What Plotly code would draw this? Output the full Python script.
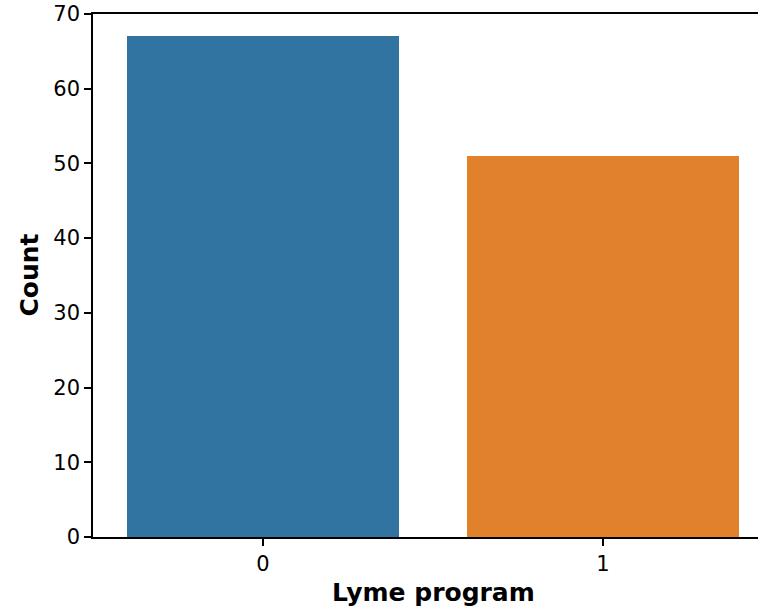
import plotly.graph_objects as go

categories = ["0", "1"]
counts = [67, 51]
colors = ["#3274a1", "#e1812c"]
y_ticks = [0, 10, 20, 30, 40, 50, 60, 70]

W, H = 758, 610
L, T, B = 93, 14, 73
# axis spans -0.5..1.5 in the original, cut off by the figure edge at right
x_left = -0.5
px_per_unit = 340.0
x_right = x_left + (W - L) / px_per_unit

fig = go.Figure()
fig.add_trace(go.Bar(
    x=[0, 1], y=counts, width=0.8, marker=dict(color=colors, line=dict(width=0)),
    hoverinfo="skip",
))

font = dict(family="DejaVu Sans", size=21, color="#000000")
label_font = dict(family="DejaVu Sans", size=25, color="#000000")
fig.update_layout(
    width=W, height=H,
    margin=dict(l=L, r=0, t=T, b=B, pad=0),
    paper_bgcolor="white", plot_bgcolor="white",
    showlegend=False, bargap=0,
    font=font,
    xaxis=dict(
        range=[x_left, x_right], tickmode="array", tickvals=[0, 1], ticktext=categories,
        showgrid=False, zeroline=False, showline=True, linecolor="#000000", linewidth=1.5,
        mirror=True, ticks="outside", ticklen=7, tickwidth=1.5, tickcolor="#000000",
        tickfont=font,
    ),
    yaxis=dict(
        range=[0, 70], tickmode="array", tickvals=y_ticks,
        showgrid=False, zeroline=False, showline=True, linecolor="#000000", linewidth=1.5,
        ticks="outside", ticklen=7, tickwidth=1.5, tickcolor="#000000",
        tickfont=font,
    ),
    annotations=[
        dict(text="<b>Lyme program</b>", xref="x", x=0.5, yref="paper", y=0,
             yshift=-55, xanchor="center", yanchor="middle", showarrow=False,
             font=label_font),
        dict(text="<b>Count</b>", xref="paper", x=0, xshift=-64, yref="paper", y=0.5,
             xanchor="center", yanchor="middle", textangle=-90, showarrow=False,
             font=label_font),
    ],
)

fig.write_html(
    "out.html",
    config={"displayModeBar": False},
    post_script="document.body.style.margin='0';document.body.style.overflow='hidden';",
)
